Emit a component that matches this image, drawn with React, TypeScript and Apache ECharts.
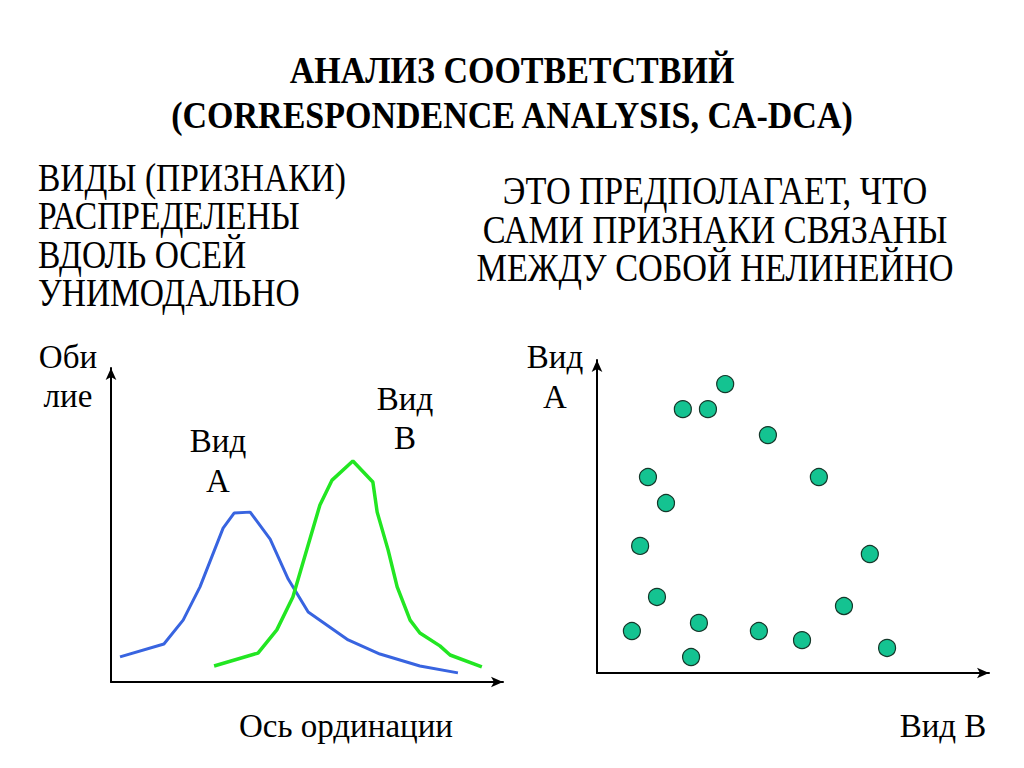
import React, { useEffect, useRef } from "react";
import * as echarts from "echarts";

// Left chart: abundance of species A and B along the ordination axis
const speciesA: [number, number][] = [
  [2.3, 8.0], [13.5, 12.1], [18.4, 19.7], [22.7, 30.3], [28.6, 49.0], [31.4, 53.8],
  [35.5, 54.1], [40.6, 45.5], [45.2, 32.8], [50.3, 22.3], [60.5, 13.4], [68.6, 8.9],
  [78.8, 5.1], [88.5, 2.9],
];
const speciesB: [number, number][] = [
  [26.3, 5.1], [37.5, 9.2], [42.3, 16.6], [46.4, 27.1], [53.3, 56.4], [56.4, 64.3],
  [61.7, 70.4], [66.8, 63.7], [67.9, 54.1], [70.7, 42.0], [73.0, 30.3], [76.3, 19.7],
  [78.8, 15.6], [83.9, 11.5], [86.5, 8.6], [94.6, 4.8],
];
// Right chart: samples in the space of species B (x) and species A (y)
const samples: [number, number][] = [
  [32.7, 92.3], [21.9, 84.3], [28.3, 84.3], [43.6, 76.0], [13.0, 62.6], [56.6, 62.6],
  [17.6, 54.3], [11.0, 40.6], [69.6, 38.0], [15.3, 24.3], [63.0, 21.4], [8.9, 13.4],
  [26.0, 16.0], [41.3, 13.4], [52.3, 10.5], [74.0, 8.0], [24.0, 5.1],
];

const titleLines = ["АНАЛИЗ СООТВЕТСТВИЙ", "(CORRESPONDENCE ANALYSIS, CA-DCA)"];
const leftText = ["ВИДЫ (ПРИЗНАКИ)", "РАСПРЕДЕЛЕНЫ", "ВДОЛЬ ОСЕЙ", "УНИМОДАЛЬНО"];
const rightText = ["ЭТО ПРЕДПОЛАГАЕТ, ЧТО", "САМИ ПРИЗНАКИ СВЯЗАНЫ", "МЕЖДУ СОБОЙ НЕЛИНЕЙНО"];

const FONT = "Liberation Serif";

function txt(text: string, x: number, y: number, size: number, align: string, bold = false, sy = 1) {
  return {
    type: "text",
    x,
    y,
    scaleY: sy,
    style: {
      text,
      fontFamily: FONT,
      fontSize: size,
      fontWeight: bold ? "bold" : "normal",
      fill: "#000",
      align,
      verticalAlign: "middle",
    },
  };
}

function axisCommon(gridIndex: number) {
  return {
    type: "value",
    gridIndex,
    min: 0,
    max: 100,
    axisLine: {
      show: true,
      symbol: ["none", "arrow"],
      symbolSize: [8, 12],
      lineStyle: { color: "#000", width: 2 },
    },
    axisTick: { show: false },
    axisLabel: { show: false },
    splitLine: { show: false },
  };
}

export default function App() {
  const ref = useRef<HTMLDivElement>(null);
  useEffect(() => {
    if (!ref.current) return;
    const chart = echarts.init(ref.current, undefined, { renderer: "svg" });
    const graphic: any[] = [];
    graphic.push(txt(titleLines[0], 512, 70, 34, "center", true, 1.1));
    graphic.push(txt(titleLines[1], 512, 115, 34, "center", true, 1.1));
    leftText.forEach((t, i) => graphic.push(txt(t, 38, 178 + i * 38.5, 33.5, "left", false, 1.17)));
    rightText.forEach((t, i) => graphic.push(txt(t, 715, 191 + i * 38.5, 34.3, "center", false, 1.17)));
    graphic.push(txt("Оби", 68, 357, 33, "center"));
    graphic.push(txt("лие", 68, 396, 33, "center"));
    graphic.push(txt("Вид", 218, 441, 33, "center"));
    graphic.push(txt("А", 218, 481, 33, "center"));
    graphic.push(txt("Вид", 405, 399, 33, "center"));
    graphic.push(txt("В", 405, 438, 33, "center"));
    graphic.push(txt("Ось ординации", 346, 726, 33, "center"));
    graphic.push(txt("Вид", 555, 357, 33, "center"));
    graphic.push(txt("А", 555, 397, 33, "center"));
    graphic.push(txt("Вид В", 943, 726, 33, "center"));

    chart.setOption({
      animation: false,
      backgroundColor: "#fff",
      grid: [
        { left: 111, top: 368, width: 392, height: 314 },
        { left: 597, top: 360, width: 392, height: 313 },
      ],
      xAxis: [axisCommon(0), axisCommon(1)],
      yAxis: [axisCommon(0), axisCommon(1)],
      series: [
        {
          type: "line",
          xAxisIndex: 0,
          yAxisIndex: 0,
          data: speciesA,
          showSymbol: false,
          lineStyle: { color: "#3864e0", width: 3 },
        },
        {
          type: "line",
          xAxisIndex: 0,
          yAxisIndex: 0,
          data: speciesB,
          showSymbol: false,
          lineStyle: { color: "#22e622", width: 3.5 },
        },
        {
          type: "scatter",
          xAxisIndex: 1,
          yAxisIndex: 1,
          data: samples,
          symbolSize: 17,
          itemStyle: { color: "#14c391", borderColor: "#15382a", borderWidth: 1.2, opacity: 1 },
        },
      ],
      graphic,
    });
    return () => chart.dispose();
  }, []);
  return <div ref={ref} style={{ position: "absolute", left: 0, top: 0, width: 1024, height: 768 }} />;
}
